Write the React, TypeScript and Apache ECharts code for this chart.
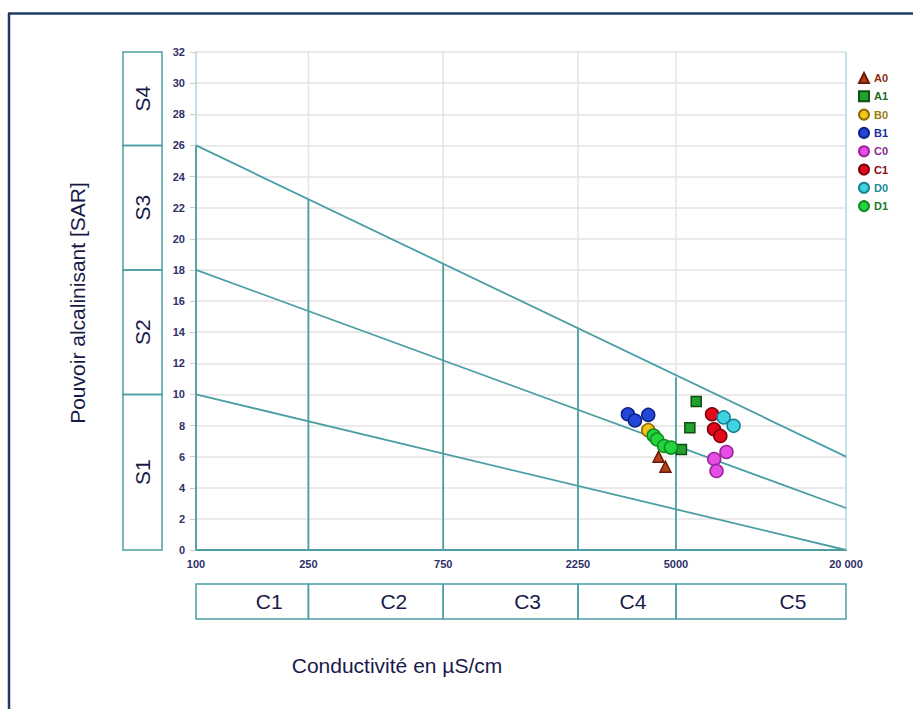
import React, { useEffect, useRef } from 'react';
import * as echarts from 'echarts';

// ---- axes / classes ----
const X_TICKS = [100, 250, 750, 2250, 5000, 20000];
const X_TICK_LABELS = ['100', '250', '750', '2250', '5000', '20 000'];
const X_GRID_LINES = [250, 750, 2250, 5000];
const Y_MIN = 0;
const Y_MAX = 32;
const Y_STEP = 2;

const S_BOUNDS = [0, 10, 18, 26, 32];
const S_LABELS = ['S1', 'S2', 'S3', 'S4'];
const C_BOUNDS = [100, 250, 750, 2250, 5000, 20000];
const C_LABELS = ['C1', 'C2', 'C3', 'C4', 'C5'];

// diagonal class boundaries: SAR at 100 and at 20000 µS/cm
const DIAG_LEFT_SAR = [10, 18, 26];
const DIAG_RIGHT_SAR = [0, 2.7, 6];
// vertical class dividers and the SAR at which each stops
const DIVIDER_X = [100, 250, 750, 2250, 5000];
const DIVIDER_TOP_SAR = [26, 22.5, 18.4, 14.2, 11.1];

// ---- samples ----
const SAMPLE_NAMES = ['A0', 'A1', 'B0', 'B1', 'C0', 'C1', 'D0', 'D1'];
const A0 = [[4340, 6.0], [4590, 5.35]];
const A1 = [[5900, 9.55], [5600, 7.85], [5230, 6.45]];
const B0 = [[3990, 7.7]];
const B1 = [[3380, 8.72], [3580, 8.32], [3990, 8.68]];
const C0 = [[6830, 5.85], [7550, 6.3], [6960, 5.08]];
const C1 = [[6710, 8.72], [6820, 7.76], [7180, 7.33]];
const D0 = [[7380, 8.52], [8000, 7.98]];
const D1 = [[4170, 7.35], [4290, 7.1], [4540, 6.68], [4800, 6.58]];
const SAMPLE_DATA = [A0, A1, B0, B1, C0, C1, D0, D1];

// ---- styles ----
const SAMPLE_STYLE: Record<string, any> = {
  A0: { symbol: 'triangle', size: 11, fill: '#b5411c', stroke: '#6a1a05', text: '#8a2c10' },
  A1: { symbol: 'rect', size: 10, fill: '#22a12e', stroke: '#0c4f12', text: '#1b6a22' },
  B0: { symbol: 'circle', size: 13, fill: '#f0c419', stroke: '#8c6a00', text: '#9a7c10' },
  B1: { symbol: 'circle', size: 13, fill: '#2346d8', stroke: '#0f2385', text: '#1a2f9a' },
  C0: { symbol: 'circle', size: 13, fill: '#e64ce6', stroke: '#9a259a', text: '#8a2a8a' },
  C1: { symbol: 'circle', size: 13, fill: '#e3081a', stroke: '#7c0008', text: '#8a0c10' },
  D0: { symbol: 'circle', size: 13, fill: '#3fd2e0', stroke: '#15818e', text: '#1d8a96' },
  D1: { symbol: 'circle', size: 13, fill: '#22d43e', stroke: '#118a22', text: '#1c7a2a' },
};
const FONT = '"Liberation Sans", Arial, sans-serif';
const TEAL = '#4b9ea3';
const LIGHT_BLUE = '#acd9e0';
const GRID_GRAY = '#e3e3e3';
const NAVY = '#1a1a4a';
const C_LABEL_OFFSET = [17, 18, 17, 6, 32];

export default function App() {
  const ref = useRef<HTMLDivElement>(null);
  useEffect(() => {
    if (!ref.current) return;
    const chart = echarts.init(ref.current, null, { renderer: 'svg' });

    const series: any[] = [];
    // light gray vertical grid lines
    X_GRID_LINES.forEach((x) => {
      series.push({
        type: 'line', silent: true, z: 1, showSymbol: false,
        data: [[x, Y_MIN], [x, Y_MAX]],
        lineStyle: { color: GRID_GRAY, width: 1.5 },
      });
    });
    // right plot border
    series.push({
      type: 'line', silent: true, z: 1, showSymbol: false,
      data: [[X_TICKS[X_TICKS.length - 1], Y_MIN], [X_TICKS[X_TICKS.length - 1], Y_MAX]],
      lineStyle: { color: LIGHT_BLUE, width: 1.5 },
    });
    // diagonal class boundaries
    DIAG_LEFT_SAR.forEach((s, i) => {
      series.push({
        type: 'line', silent: true, z: 2, showSymbol: false,
        data: [[C_BOUNDS[0], s], [C_BOUNDS[C_BOUNDS.length - 1], DIAG_RIGHT_SAR[i]]],
        lineStyle: { color: TEAL, width: 1.8 },
      });
    });
    // vertical dividers
    DIVIDER_X.forEach((x, i) => {
      series.push({
        type: 'line', silent: true, z: 2, showSymbol: false,
        data: [[x, Y_MIN], [x, DIVIDER_TOP_SAR[i]]],
        lineStyle: { color: TEAL, width: 1.8 },
      });
    });
    // samples
    SAMPLE_NAMES.forEach((n, i) => {
      const st = SAMPLE_STYLE[n];
      series.push({
        name: n, type: 'scatter', z: 5,
        symbol: st.symbol, symbolSize: st.size,
        data: SAMPLE_DATA[i],
        itemStyle: { color: st.fill, borderColor: st.stroke, borderWidth: 1.5, opacity: 1 },
      });
    });

    chart.setOption({
      animation: false,
      backgroundColor: '#ffffff',
      grid: { left: 196, right: 67, top: 52, bottom: 159, containLabel: false },
      legend: {
        orient: 'vertical', left: 853, top: 67,
        itemWidth: 10, itemHeight: 10, itemGap: 6.3,
        textStyle: { fontSize: 11, fontWeight: 'bold', fontFamily: FONT },
        data: SAMPLE_NAMES.map((n) => ({ name: n, textStyle: { color: SAMPLE_STYLE[n].text } })),
      },
      xAxis: {
        type: 'log', logBase: 10, min: X_TICKS[0], max: X_TICKS[X_TICKS.length - 1],
        axisLine: { show: true, lineStyle: { color: TEAL, width: 2 } },
        axisTick: { show: false },
        splitLine: { show: false },
        minorSplitLine: { show: false },
        axisLabel: {
          customValues: X_TICKS,
          margin: 8,
          fontSize: 11, fontWeight: 'bold', color: '#2f2f68', fontFamily: FONT,
          formatter: (v: number) => {
            const r = Math.round(v);
            const i = X_TICKS.indexOf(r);
            return i >= 0 ? X_TICK_LABELS[i] : '';
          },
        },
      },
      yAxis: {
        type: 'value', min: Y_MIN, max: Y_MAX, interval: Y_STEP,
        axisLine: { show: true, lineStyle: { color: LIGHT_BLUE, width: 1.5 } },
        axisTick: { show: true, length: 6, lineStyle: { color: '#d6c6c6' } },
        splitLine: { show: true, lineStyle: { color: GRID_GRAY, width: 1.5 } },
        axisLabel: { margin: 11, fontSize: 11, fontWeight: 'bold', color: '#2f2f68', fontFamily: FONT },
      },
      series,
    });

    // annotation boxes, positioned through the axes
    const px = (x: number, y: number) => chart.convertToPixel({ gridIndex: 0 }, [x, y]) as number[];
    const graphics: any[] = [];
    const gl = px(C_BOUNDS[0], 0)[0];
    const axisY = px(C_BOUNDS[0], 0)[1];
    const topY = px(C_BOUNDS[0], Y_MAX)[1];
    // frame
    graphics.push({ type: 'line', shape: { x1: 8, y1: 13.5, x2: 913, y2: 13.5 }, style: { stroke: '#1f3b63', lineWidth: 2.5 } });
    graphics.push({ type: 'line', shape: { x1: 9, y1: 13, x2: 9, y2: 709 }, style: { stroke: '#1f3b63', lineWidth: 2.5 } });
    // S boxes
    const sL = gl - 73;
    const sW = 39;
    for (let i = 0; i < S_LABELS.length; i++) {
      const yb = px(C_BOUNDS[0], S_BOUNDS[i])[1];
      const yt = px(C_BOUNDS[0], S_BOUNDS[i + 1])[1];
      graphics.push({
        type: 'rect', shape: { x: sL, y: yt, width: sW, height: yb - yt },
        style: { fill: 'none', stroke: TEAL, lineWidth: 1.5 },
      });
      graphics.push({
        type: 'text', x: sL + sW / 2, y: (yt + yb) / 2, rotation: Math.PI / 2,
        style: { text: S_LABELS[i], fontSize: 21, fontFamily: FONT, fill: NAVY, align: 'center', verticalAlign: 'middle' },
      });
    }
    // C boxes
    const cTop = axisY + 34;
    const cH = 35;
    for (let i = 0; i < C_LABELS.length; i++) {
      const xl = px(C_BOUNDS[i], 0)[0];
      const xr = px(C_BOUNDS[i + 1], 0)[0];
      graphics.push({
        type: 'rect', shape: { x: xl, y: cTop, width: xr - xl, height: cH },
        style: { fill: 'none', stroke: TEAL, lineWidth: 1.5 },
      });
      graphics.push({
        type: 'text', x: (xl + xr) / 2 + C_LABEL_OFFSET[i], y: cTop + cH / 2,
        style: { text: C_LABELS[i], fontSize: 21, fontFamily: FONT, fill: NAVY, align: 'center', verticalAlign: 'middle' },
      });
    }
    // axis titles
    graphics.push({
      type: 'text', x: gl - 119, y: (axisY + topY) / 2 + 2, rotation: Math.PI / 2,
      style: { text: 'Pouvoir alcalinisant [SAR]', fontSize: 21, fontFamily: FONT, fill: NAVY, align: 'center', verticalAlign: 'middle' },
    });
    graphics.push({
      type: 'text', x: gl + 201, y: axisY + 115,
      style: { text: 'Conductivité en µS/cm', fontSize: 21, fontFamily: FONT, fill: NAVY, align: 'center', verticalAlign: 'middle' },
    });
    chart.setOption({ graphic: graphics });

    return () => chart.dispose();
  }, []);
  return <div ref={ref} style={{ position: 'fixed', left: 0, top: 0, width: 913, height: 709 }} />;
}
